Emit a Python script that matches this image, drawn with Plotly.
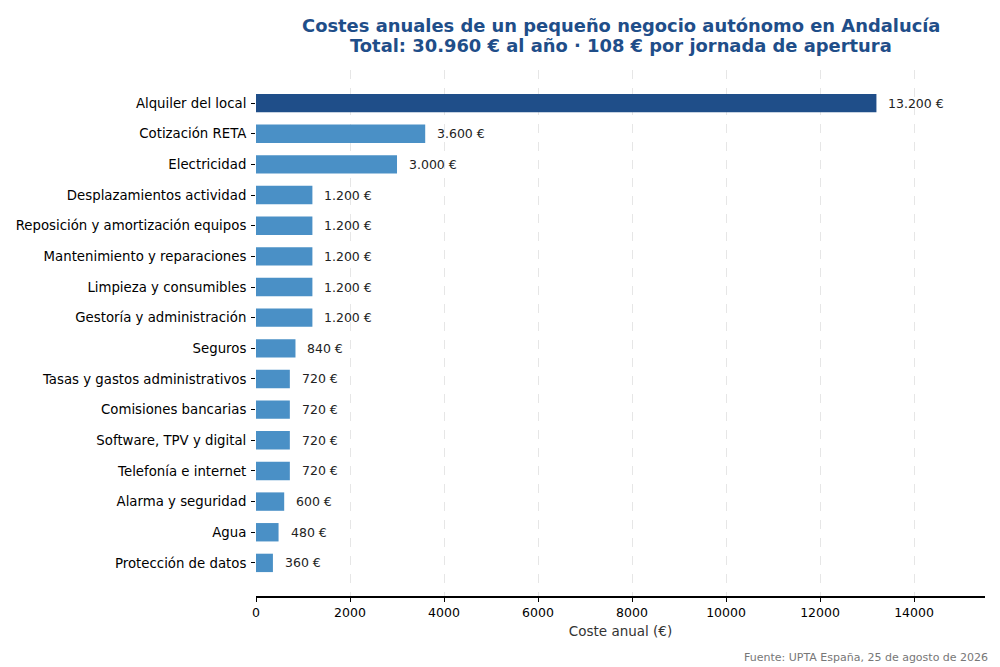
import plotly.graph_objects as go

categorias = [
    "Alquiler del local", "Cotización RETA", "Electricidad", "Desplazamientos actividad",
    "Reposición y amortización equipos", "Mantenimiento y reparaciones",
    "Limpieza y consumibles", "Gestoría y administración", "Seguros",
    "Tasas y gastos administrativos", "Comisiones bancarias", "Software, TPV y digital",
    "Telefonía e internet", "Alarma y seguridad", "Agua", "Protección de datos",
]
costes = [13200, 3600, 3000, 1200, 1200, 1200, 1200, 1200, 840, 720, 720, 720, 720, 600, 480, 360]
etiquetas = ["13.200 €", "3.600 €", "3.000 €", "1.200 €", "1.200 €", "1.200 €", "1.200 €",
             "1.200 €", "840 €", "720 €", "720 €", "720 €", "720 €", "600 €", "480 €", "360 €"]
titulo = ["Costes anuales de un pequeño negocio autónomo en Andalucía",
          "Total: 30.960 € al año · 108 € por jornada de apertura"]

OSCURO = "#1f4e89"
CLARO = "#4a90c6"
colores = [OSCURO if c == max(costes) else CLARO for c in costes]

fig = go.Figure(go.Bar(
    x=costes, y=categorias, orientation="h",
    marker=dict(color=colores, line_width=0), width=0.6,
    hoverinfo="skip",
))

# etiquetas de valor a la derecha de cada barra
for c, cat, et in zip(costes, categorias, etiquetas):
    fig.add_annotation(x=c, y=cat, text=et, showarrow=False, xanchor="left",
                       xshift=10, font=dict(size=12.5, color="#222"))

# título en dos líneas (una anotación por línea para controlar el interlineado)
for linea, ypos in zip(titulo, [1.0837, 1.0475]):
    fig.add_annotation(text="<b>" + linea + "</b>", xref="paper", yref="paper",
                       x=0.5, y=ypos, xanchor="center", yanchor="middle",
                       showarrow=False, font=dict(size=17.9, color=OSCURO))

fig.add_annotation(text="Fuente: UPTA España, 25 de agosto de 2026", xref="paper", yref="paper",
                   x=1.0069, y=-0.116, xanchor="right", yanchor="middle", showarrow=False,
                   font=dict(size=11, color="#777"))

fig.update_layout(
    width=992, height=659,
    margin=dict(l=248, r=15, t=62, b=71, autoexpand=False),
    paper_bgcolor="white", plot_bgcolor="white",
    font=dict(family="DejaVu Sans", color="black"),
    showlegend=False,
    xaxis=dict(
        range=[0, 15510], dtick=2000, tickformat="d", automargin=False,
        showgrid=True, gridcolor="#e6e6e6", griddash="dash", gridwidth=1,
        zeroline=False, showline=True, linecolor="black", linewidth=1.5,
        ticks="outside", ticklen=4, tickcolor="black",
        tickfont=dict(size=12.5),
        title=dict(text="Coste anual (€)", font=dict(size=13.5, color="#333"), standoff=8),
    ),
    yaxis=dict(
        autorange=False, range=[15 + 1.08, -1.08], automargin=False,
        showgrid=False, zeroline=False, showline=False,
        ticks="outside", ticklen=4, tickcolor="black", ticklabelstandoff=2,
        tickfont=dict(size=13.3),
    ),
)

fig.write_html("out.html")
